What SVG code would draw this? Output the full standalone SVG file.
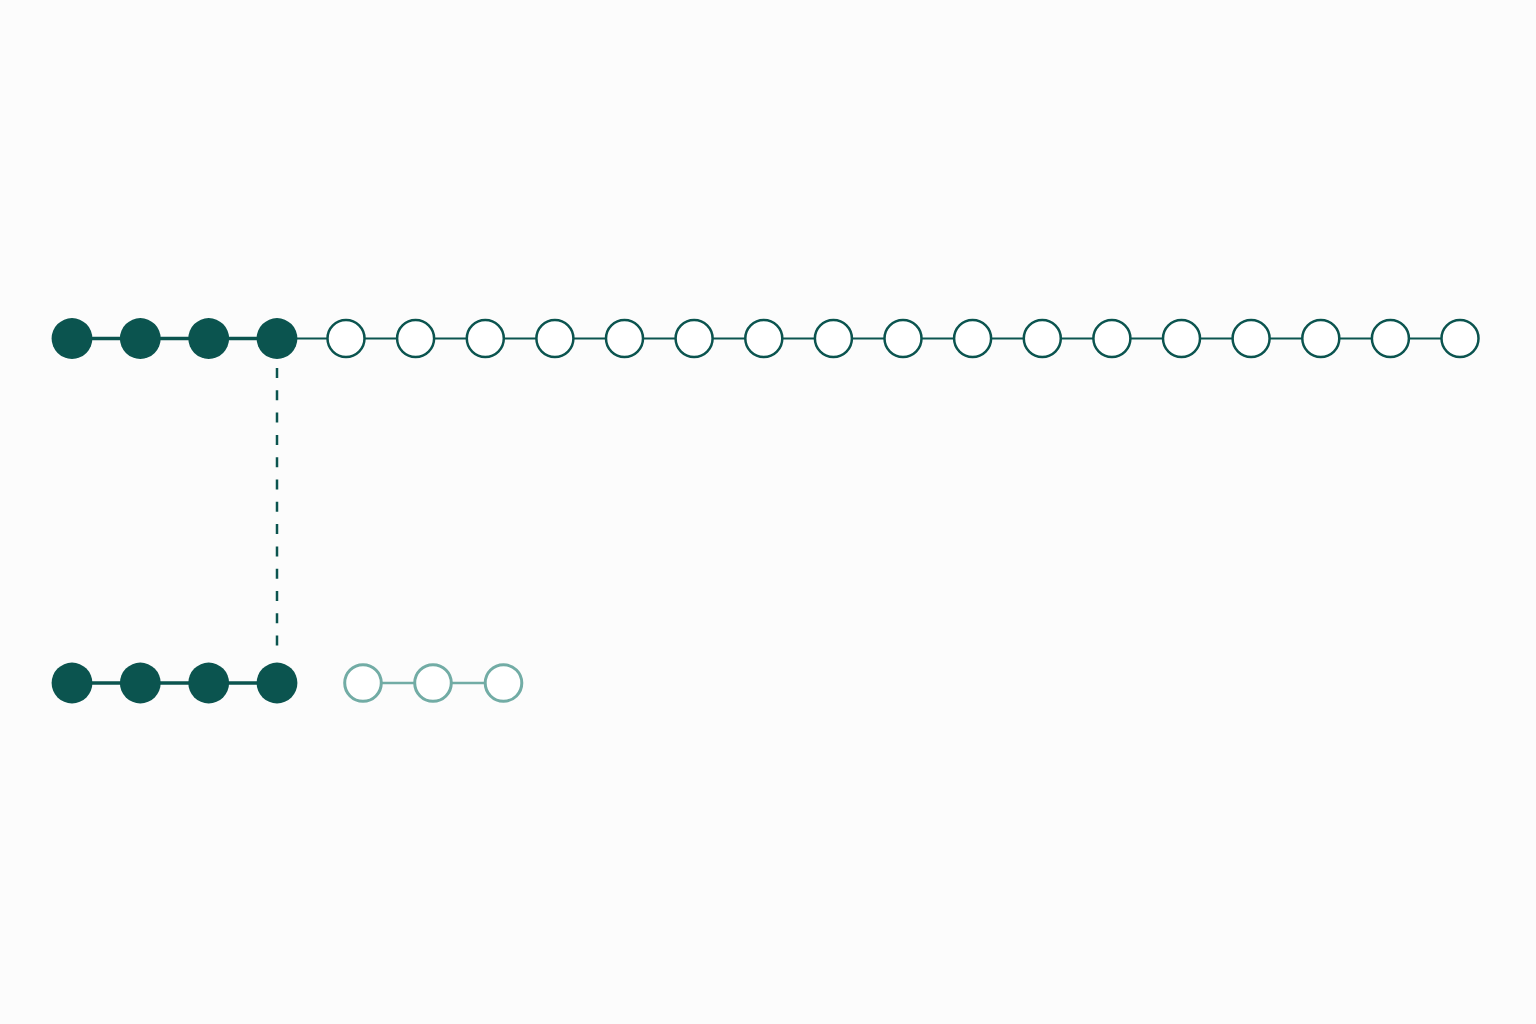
<svg xmlns="http://www.w3.org/2000/svg" width="1536" height="1024" viewBox="0 0 1536 1024">
<style>
.bg{fill:#fcfcfc}
.full{fill:#0b544f}
.open{fill:#ffffff;stroke:#0b544f;stroke-width:2.5}
.pale{fill:#ffffff;stroke:#72aca5;stroke-width:3}
.lk{stroke:#0b544f;stroke-width:3.5}
.lt{stroke:#0b544f;stroke-width:2}
.lp{stroke:#72aca5;stroke-width:2.5}
.dash{stroke:#0b544f;stroke-width:2.5;stroke-dasharray:10 12.3}
</style>
<rect class="bg" x="0" y="0" width="1536" height="1024"/>
<g id="connectors">
<line class="lk" x1="72" y1="338.5" x2="277" y2="338.5"/>
<line class="lt" x1="277" y1="338.5" x2="1460" y2="338.5"/>
<line class="lk" x1="72" y1="683" x2="277" y2="683"/>
<line class="lp" x1="363" y1="683" x2="503.5" y2="683"/>
<line class="dash" x1="277" y1="368" x2="277" y2="650"/>
</g>
<g id="top-row">
<circle id="t1" class="full" cx="72" cy="338.5" r="20.4"/>
<circle id="t2" class="full" cx="140.3" cy="338.5" r="20.4"/>
<circle id="t3" class="full" cx="208.7" cy="338.5" r="20.4"/>
<circle id="t4" class="full" cx="277" cy="338.5" r="20.4"/>
<circle id="t5" class="open" cx="346" cy="338.5" r="18.5"/>
<circle id="t6" class="open" cx="415.6" cy="338.5" r="18.5"/>
<circle id="t7" class="open" cx="485.3" cy="338.5" r="18.5"/>
<circle id="t8" class="open" cx="554.9" cy="338.5" r="18.5"/>
<circle id="t9" class="open" cx="624.5" cy="338.5" r="18.5"/>
<circle id="t10" class="open" cx="694.1" cy="338.5" r="18.5"/>
<circle id="t11" class="open" cx="763.8" cy="338.5" r="18.5"/>
<circle id="t12" class="open" cx="833.4" cy="338.5" r="18.5"/>
<circle id="t13" class="open" cx="903" cy="338.5" r="18.5"/>
<circle id="t14" class="open" cx="972.6" cy="338.5" r="18.5"/>
<circle id="t15" class="open" cx="1042.3" cy="338.5" r="18.5"/>
<circle id="t16" class="open" cx="1111.9" cy="338.5" r="18.5"/>
<circle id="t17" class="open" cx="1181.5" cy="338.5" r="18.5"/>
<circle id="t18" class="open" cx="1251.1" cy="338.5" r="18.5"/>
<circle id="t19" class="open" cx="1320.8" cy="338.5" r="18.5"/>
<circle id="t20" class="open" cx="1390.4" cy="338.5" r="18.5"/>
<circle id="t21" class="open" cx="1460" cy="338.5" r="18.5"/>
</g>
<g id="bottom-row">
<circle id="b1" class="full" cx="72" cy="683" r="20.4"/>
<circle id="b2" class="full" cx="140.3" cy="683" r="20.4"/>
<circle id="b3" class="full" cx="208.7" cy="683" r="20.4"/>
<circle id="b4" class="full" cx="277" cy="683" r="20.4"/>
<circle id="b5" class="pale" cx="363" cy="683" r="18.3"/>
<circle id="b6" class="pale" cx="433" cy="683" r="18.3"/>
<circle id="b7" class="pale" cx="503.5" cy="683" r="18.3"/>
</g>
</svg>
